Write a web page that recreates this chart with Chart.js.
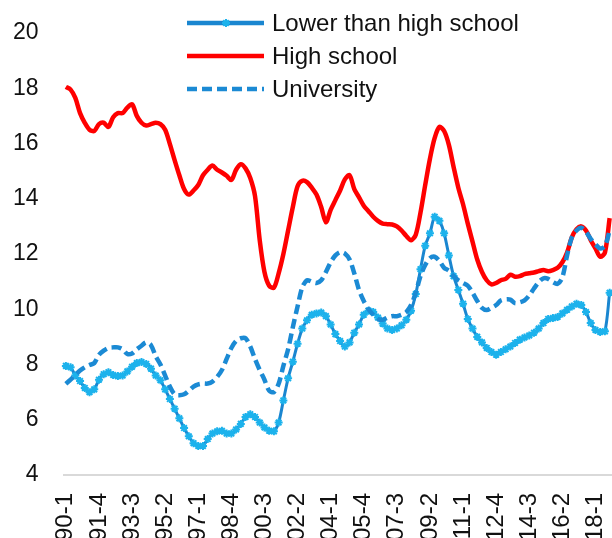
<!DOCTYPE html>
<html>
<head>
<meta charset="utf-8">
<script src="https://cdn.jsdelivr.net/npm/chart.js@4.4.0/dist/chart.umd.min.js"></script>
<style>
  html, body { margin: 0; padding: 0; width: 612px; height: 538px; overflow: hidden; background: #fff; }
  /* the original picture is a crop: plot runs past the right and bottom edges */
  #wrap { position: absolute; left: 0; top: 0; width: 640px; height: 600px; }
</style>
</head>
<body>
<div id="wrap"><canvas id="chart"></canvas></div>
<script>
// ---------- data ----------
const categories = [];
for (let y = 1990; y <= 2018; y++) for (let q = 1; q <= 4; q++) categories.push(y + '-' + q);
const tickLabels = categories.filter((_, i) => i % 7 === 0);   // 1990-1, 1991-4, 1993-3 ...

const lowerThanHigh = [
  7.95, 7.9, 7.6, 7.4, 7.15, 7.0, 7.1, 7.45, 7.65, 7.72, 7.62, 7.58, 7.6, 7.75, 7.92, 8.05, 8.09, 8.02, 7.85, 7.6,
  7.43, 7.1, 6.75, 6.4, 6.05, 5.7, 5.4, 5.15, 5.05, 5.05, 5.3, 5.5, 5.58, 5.6, 5.5, 5.5, 5.65, 5.85, 6.1, 6.2,
  6.1, 5.9, 5.72, 5.6, 5.58, 5.9, 6.7, 7.5, 8.1, 8.75, 9.3, 9.6, 9.8, 9.85, 9.88, 9.75, 9.45, 9.1, 8.85, 8.65,
  8.8, 9.15, 9.45, 9.8, 9.95, 9.9, 9.7, 9.48, 9.3, 9.25, 9.3, 9.42, 9.62, 9.95, 10.55, 11.45, 12.3, 12.75, 13.35, 13.2,
  12.75, 11.95, 11.2, 10.7, 10.2, 9.65, 9.3, 9.0, 8.8, 8.6, 8.45, 8.35, 8.45, 8.55, 8.65, 8.78, 8.9, 8.98, 9.05, 9.15,
  9.3, 9.5, 9.65, 9.68, 9.72, 9.85, 9.98, 10.1, 10.2, 10.15, 9.9, 9.5, 9.25, 9.18, 9.2, 10.6
];
const highSchool = [
  18.05, 17.95, 17.65, 17.1, 16.75, 16.5, 16.45, 16.7, 16.75, 16.6, 16.95, 17.1, 17.1, 17.3, 17.42, 17.0, 16.75, 16.65, 16.7, 16.75,
  16.7, 16.5, 15.98, 15.4, 14.85, 14.35, 14.15, 14.3, 14.5, 14.85, 15.05, 15.2, 15.05, 14.95, 14.83, 14.68, 15.05, 15.25, 15.1, 14.75,
  14.1, 12.5, 11.35, 10.85, 10.78, 11.3, 12.0, 12.85, 13.7, 14.45, 14.65, 14.6, 14.4, 14.15, 13.7, 13.15, 13.6, 13.95, 14.3, 14.7,
  14.85, 14.35, 14.05, 13.75, 13.55, 13.35, 13.2, 13.1, 13.08, 13.07, 13.0, 12.85, 12.65, 12.5, 12.7, 13.5, 14.5, 15.45, 16.2, 16.6,
  16.45, 15.95, 15.15, 14.4, 13.8, 13.1, 12.45, 11.8, 11.35, 11.05, 10.9, 10.95, 11.05, 11.1, 11.25, 11.18, 11.2, 11.27, 11.3, 11.33,
  11.38, 11.42, 11.38, 11.42, 11.5, 11.7, 12.05, 12.6, 12.9, 13.0, 12.85, 12.5, 12.2, 11.9, 12.05, 13.3
];
const university = [
  7.3, 7.45, 7.62, 7.78, 7.9, 7.98, 8.05, 8.35, 8.5, 8.6, 8.62, 8.62, 8.55, 8.38, 8.4, 8.55, 8.68, 8.8, 8.7, 8.3,
  8.0, 7.6, 7.2, 6.92, 6.89, 6.92, 7.05, 7.2, 7.28, 7.31, 7.31, 7.38, 7.55, 7.8, 8.2, 8.6, 8.85, 8.95, 8.95, 8.65,
  8.2, 7.8, 7.45, 7.05, 7.0, 7.3, 7.95, 8.55, 9.35, 10.1, 10.8, 11.05, 11.0, 10.95, 11.05, 11.35, 11.7, 11.95, 12.07, 12.02,
  11.8, 11.3, 10.7, 10.3, 10.0, 9.8, 9.65, 9.62, 9.7, 9.75, 9.75, 9.8, 9.9, 10.15, 10.6, 11.2, 11.6, 11.85, 11.9, 11.75,
  11.5, 11.4, 11.2, 11.05, 10.95, 10.85, 10.6, 10.3, 10.05, 9.97, 10.05, 10.15, 10.32, 10.36, 10.35, 10.22, 10.25, 10.32, 10.5, 10.75,
  10.98, 11.12, 11.1, 10.98, 10.92, 11.15, 11.95, 12.6, 12.85, 12.95, 12.8, 12.55, 12.35, 12.2, 12.28, 12.85
];

const FONT = '"Liberation Sans", Arial, sans-serif';

// ---------- legend: three stacked rows over the top of the plot ----------
const stackedLegend = {
  id: 'stackedLegend',
  afterDraw(chart) {
    const ctx = chart.ctx;
    ctx.save();
    chart.data.datasets.forEach((ds, k) => {
      const y = 23 + 33 * k;
      ctx.beginPath();
      ctx.setLineDash(ds.borderDash || []);
      ctx.lineWidth = 4.5;
      ctx.strokeStyle = ds.borderColor;
      ctx.moveTo(187, y);
      ctx.lineTo(264, y);
      ctx.stroke();
      ctx.setLineDash([]);
      if (ds.pointRadius) {
        ctx.strokeStyle = ds.pointBorderColor;
        ctx.lineWidth = ds.pointBorderWidth;
        Chart.helpers.drawPoint(ctx, { pointStyle: ds.pointStyle, radius: ds.pointRadius, rotation: 0, borderWidth: ds.pointBorderWidth }, 226, y);
      }
      ctx.fillStyle = '#111';
      ctx.font = '24px ' + FONT;
      ctx.textBaseline = 'middle';
      ctx.textAlign = 'left';
      ctx.fillText(ds.label, 272, y + 1);
    });
    ctx.restore();
  }
};

// scales add tick padding to their overflow; let layout.padding alone decide the plot box
const noOverflow = s => { s.paddingTop = 0; s.paddingBottom = 0; s.paddingLeft = 0; s.paddingRight = 0; };

new Chart(document.getElementById('chart'), {
  type: 'line',
  data: {
    labels: categories,
    datasets: [
      { label: 'Lower than high school', data: lowerThanHigh, order: 3,
        borderColor: '#1A86D0', borderWidth: 3, tension: 0.3,
        pointStyle: 'star', pointRadius: 4, pointBorderColor: '#1CB2EC', pointBorderWidth: 2 },
      { label: 'High school', data: highSchool, order: 2,
        borderColor: '#FF0000', borderWidth: 4.5, tension: 0.3, pointRadius: 0 },
      { label: 'University', data: university, order: 1,
        borderColor: '#1B8AD4', borderWidth: 4.5, borderDash: [10, 5], tension: 0.3, pointRadius: 0 }
    ]
  },
  options: {
    responsive: true,
    maintainAspectRatio: false,
    animation: false,
    layout: { padding: { left: 0, top: 33, right: 28, bottom: 0 } },
    plugins: { legend: { display: false }, tooltip: { enabled: false } },
    scales: {
      x: {
        offset: true,
        grid: { display: false, drawTicks: false },
        border: { display: true, color: '#D9D9D9', width: 2 },
        afterFit: s => { s.height = 125; noOverflow(s); },
        ticks: {
          autoSkip: false, maxRotation: 90, minRotation: 90, padding: 18,
          color: '#111', font: { family: FONT, size: 24 },
          callback: (v, i) => (tickLabels.includes(categories[i]) ? categories[i] : '')
        }
      },
      y: {
        min: 4, max: 20,
        grid: { display: false, drawTicks: false },
        border: { display: false },
        afterFit: s => { s.width = 63.5; noOverflow(s); },
        ticks: { stepSize: 2, padding: 25, color: '#111', font: { family: FONT, size: 23 } }
      }
    }
  },
  plugins: [stackedLegend]
});
</script>
</body>
</html>
